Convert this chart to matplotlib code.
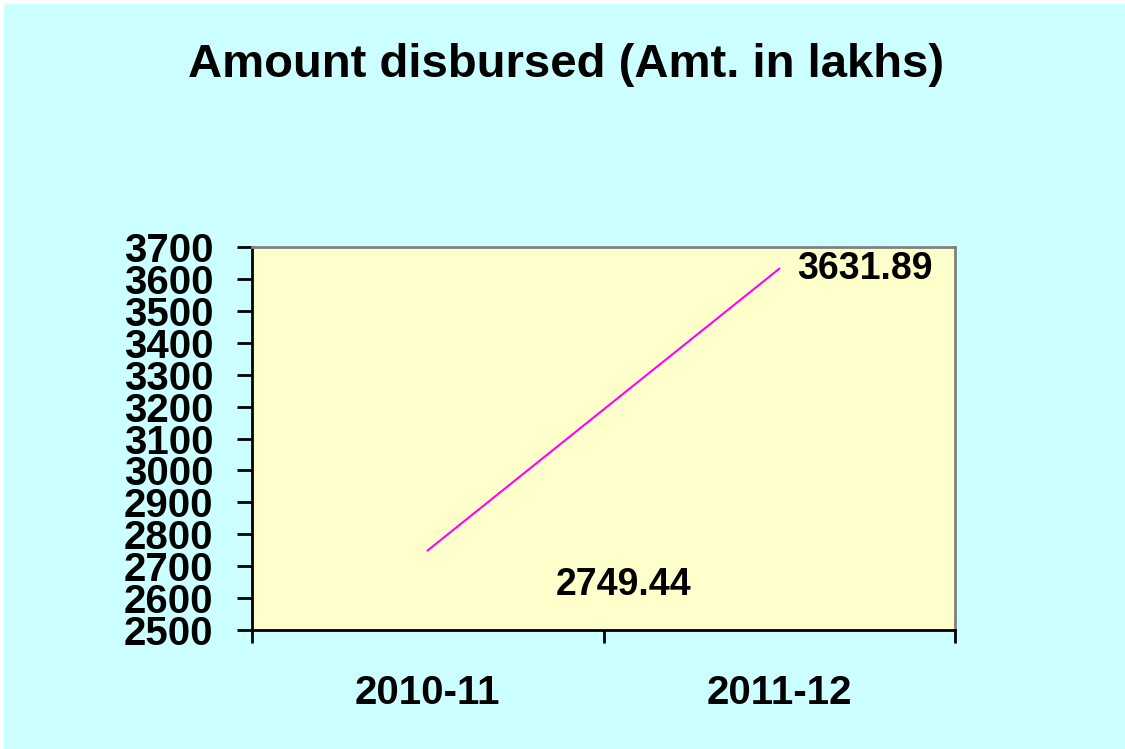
import matplotlib.pyplot as plt
from matplotlib.patches import Rectangle

years = ["2010-11", "2011-12"]
amounts = [2749.44, 3631.89]
yticks = list(range(2500, 3701, 100))

plt.rcParams['font.family'] = ['Liberation Sans', 'DejaVu Sans']
plt.rcParams['font.weight'] = 'bold'

W, H = 1125, 749
fig = plt.figure(figsize=(W / 100, H / 100), dpi=100, facecolor="white")
# cyan background with a thin white strip at top/left
fig.patches.append(Rectangle((4 / W, 0), 1, 1 - 4 / H, transform=fig.transFigure,
                             facecolor="#CCFFFF", edgecolor="none", zorder=-1))

ax = fig.add_axes([252 / W, 1 - 630 / H, (955 - 252) / W, (630 - 247) / H])
ax.set_facecolor("#FFFFCC")

xs = list(range(len(years)))
ax.plot(xs, amounts, color="#FF00FF", lw=1.5)

ax.set_xlim(-0.5, 1.5)
ax.set_ylim(2500, 3700)
ax.set_yticks(yticks)
ax.set_yticklabels([str(v) for v in yticks], fontsize=29, fontweight="bold")

# category ticks at the boundaries, labels at centers
ax.set_xticks([-0.5, 0.5, 1.5])
ax.set_xticklabels([])
ax.set_xticks(xs, minor=True)
ax.set_xticklabels(years, minor=True, fontsize=29, fontweight="bold")
ax.tick_params(axis="x", which="major", length=9, width=2, direction="out")
ax.tick_params(axis="x", which="minor", length=0, pad=32)
ax.tick_params(axis="y", length=11, width=2, direction="out", pad=17)

for s in ["left", "bottom"]:
    ax.spines[s].set_color("black")
    ax.spines[s].set_linewidth(2)
for s in ["top", "right"]:
    ax.spines[s].set_color("#808080")
    ax.spines[s].set_linewidth(2)

# data labels (offsets as in the reference)
offsets = [(196, -35), (86, 0)]
for x, v, (dx, dy) in zip(xs, amounts, offsets):
    ax.annotate(f"{v:.2f}", (x, v), xytext=(dx * 0.72, dy * 0.72), textcoords="offset points",
                ha="center", va="center", fontsize=27, fontweight="bold")

fig.text(566 / W, 1 - 65 / H, "Amount disbursed (Amt. in lakhs)", ha="center", va="center",
         fontsize=34, fontweight="bold")

fig.savefig("out.png", dpi=100)
